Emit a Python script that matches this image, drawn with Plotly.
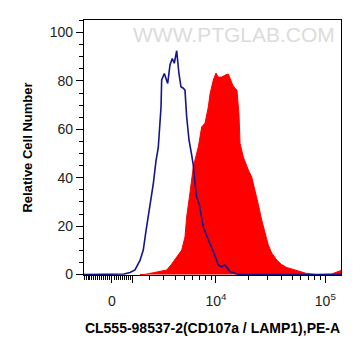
import numpy as np
import plotly.graph_objects as go

# ---- data (x in display units of an asinh-scaled fluorescence axis) ----
ASINH_C = 2299.0  # scale constant of the display transform

control_x = [-0.586, 0.167, 0.251, 0.377, 0.481, 0.586, 0.655, 0.712, 0.760, 0.816,
             0.865, 0.921, 0.969, 1.026, 1.040, 1.095, 1.166, 1.214, 1.262, 1.304,
             1.354, 1.402, 1.444, 1.492, 1.528, 1.563, 1.612, 1.668, 1.702, 1.737,
             1.773, 1.827, 1.911, 2.016, 2.121, 2.225, 2.296, 2.365, 2.470, 2.610,
             2.749, 4.794]
control_y = [0, 0, 0.2, 0.8, 1.9, 5.8, 10.1, 18, 24.0, 32,
             37.6, 47, 52.5, 69, 80.4, 83.1, 79, 86.6, 89.3, 87.3,
             92.5, 83, 77.6, 77, 76.2, 65.2, 55.6, 49.4, 45.2, 37.8,
             32, 29, 19.6, 14.3, 9.5, 3.9, 3.2, 3.9, 1.2, 0.2,
             0, 0]

sample_x = [0.586, 0.670, 0.865, 1.005, 1.145, 1.250, 1.354, 1.459, 1.528, 1.563,
            1.612, 1.654, 1.702, 1.737, 1.807, 1.878, 1.947, 2.016, 2.052, 2.121,
            2.177, 2.225, 2.296, 2.365, 2.435, 2.470, 2.527, 2.575, 2.617, 2.659,
            2.680, 2.749, 2.820, 2.854, 2.925, 2.993, 3.063, 3.134, 3.203, 3.272,
            3.343, 3.448, 3.552, 3.657, 3.795, 3.971, 4.076, 4.285, 4.494, 4.599,
            4.704, 4.794]
sample_y = [0, 0, 0.74, 1.16, 1.86, 4.34, 7.23, 10.1, 15.5, 23.8,
            30.8, 37.8, 44.4, 47.3, 52.7, 61.0, 62.6, 69.2, 74.6, 80.4,
            83.3, 81.6, 81.6, 82.4, 82.9, 81.2, 78.3, 77.0, 76.2, 65.9,
            54.3, 48.6, 44.8, 43.2, 40.3, 35.1, 29.0, 22.5, 17.1, 12.2,
            8.9, 6.0, 4.1, 2.9, 2.1, 1.2, 0.4, 0, 0, 0.2,
            1.0, 1.65]

major_tick_values = [0, 1e3, 1e4, 1e5]
major_tick_labels = ["0", "", "10<sup>4</sup>", "10<sup>5</sup>"]
minor_tick_values = ([-v for v in range(100, 1500, 100)] + list(range(100, 1000, 100))
                     + [k * 1e3 for k in range(2, 10)] + [k * 1e4 for k in range(2, 10)])

x_title = "CL555-98537-2(CD107a / LAMP1),PE-A"
y_title = "Relative Cell Number"
watermark = "WWW.PTGLAB.COM"


def to_display(v):
    return np.arcsinh(np.asarray(v, dtype=float) / ASINH_C)


fig = go.Figure()
fig.add_trace(go.Scatter(x=sample_x, y=sample_y, mode="lines", fill="tozeroy",
                         line=dict(color="#ff0000", width=1), fillcolor="#ff0000",
                         hoverinfo="skip", showlegend=False))
fig.add_trace(go.Scatter(x=control_x, y=control_y, mode="lines",
                         line=dict(color="#14148c", width=1.6),
                         hoverinfo="skip", showlegend=False))

# page body adds an 8px offset, so the figure is sized to compensate
fig.update_layout(
    width=355, height=348,
    margin=dict(l=76, r=22, t=12, b=81, autoexpand=False),
    paper_bgcolor="white", plot_bgcolor="white",
    font=dict(family="Liberation Sans, Arial", color="#222222"),
    xaxis=dict(
        range=[-0.586, 4.794], showgrid=False, zeroline=False, automargin=False,
        showline=True, mirror=True, linecolor="black", linewidth=1.3,
        tickmode="array", tickvals=to_display(major_tick_values).tolist(),
        ticktext=major_tick_labels, ticks="outside", ticklen=7, tickwidth=1.3,
        tickcolor="black", tickfont=dict(size=14, color="#222222"),
        ticklabelstandoff=6,
        minor=dict(tickvals=to_display(minor_tick_values).tolist(), ticks="outside",
                   ticklen=4, tickwidth=1, tickcolor="black"),
        title=dict(text="<b>" + x_title + "</b>", font=dict(size=14, color="black"),
                   standoff=15),
    ),
    yaxis=dict(
        range=[-0.2, 105.2], showgrid=False, zeroline=False, automargin=False,
        showline=True, mirror=True, linecolor="black", linewidth=1.3,
        tickmode="array", tickvals=[0, 20, 40, 60, 80, 100],
        ticks="outside", ticklen=7, tickwidth=1.3, tickcolor="black",
        tickfont=dict(size=14, color="#222222"),
        minor=dict(dtick=5, ticks="outside", ticklen=4, tickwidth=1, tickcolor="black"),
        title=dict(text="<b>" + y_title + "</b>", font=dict(size=13, color="black"),
                   standoff=14),
    ),
    annotations=[dict(text=watermark, xref="paper", yref="paper", x=0.585, y=0.945,
                      xanchor="center", yanchor="middle", showarrow=False,
                      font=dict(size=21, color="#dcdcdc", family="Liberation Sans, Arial"))],
)

fig.write_html("out.html")
